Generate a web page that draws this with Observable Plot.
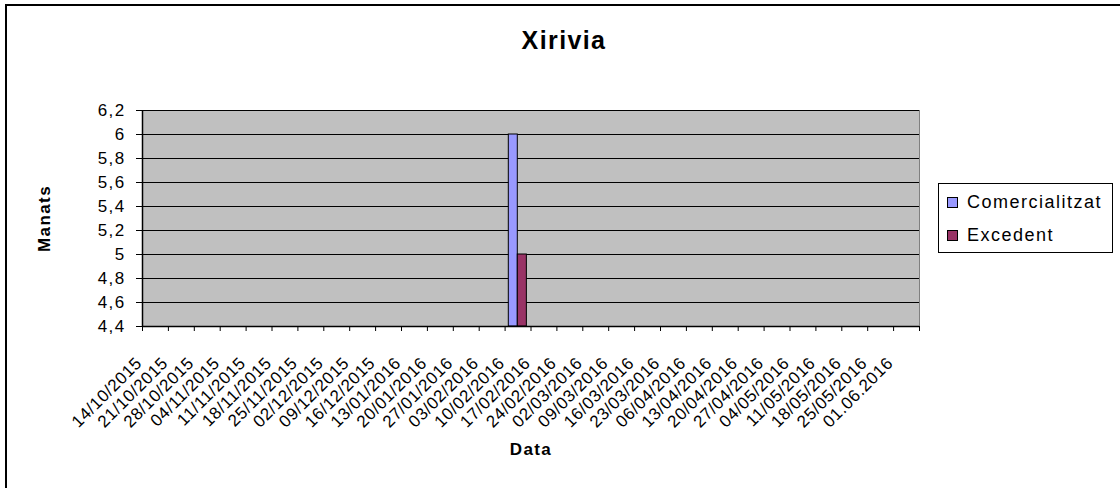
<!DOCTYPE html>
<html>
<head>
<meta charset="utf-8">
<script src="https://cdn.jsdelivr.net/npm/d3@7"></script>
<script src="https://cdn.jsdelivr.net/npm/@observablehq/plot@0.6"></script>
<style>
  html, body { margin: 0; padding: 0; background: #fff; }
  #wrap { position: relative; width: 1120px; height: 488px; overflow: hidden; font-family: "Liberation Sans", Arial, sans-serif; }
  #border { position: absolute; left: 5px; top: 4px; width: 1300px; height: 700px; border: 2px solid #000; box-sizing: border-box; pointer-events: none; }
  #chart { position: absolute; left: 0; top: 0; }
  #chart svg text { letter-spacing: 1.4px; }
  #chart svg text.xlab { letter-spacing: 0.6px; }
  #legend { position: absolute; left: 938px; top: 183px; width: 175px; height: 70px; border: 1px solid #000; box-sizing: border-box; background: #fff; }
  .item { position: absolute; left: 8px; height: 20px; display: flex; align-items: center; font-size: 18px; letter-spacing: 1.5px; color: #000; }
  .sw { width: 9px; height: 9px; border: 1px solid #000; margin-right: 9px; }
</style>
</head>
<body>
<div id="wrap">
  <div id="chart"></div>
  <div id="legend"></div>
  <div id="border"></div>
</div>
<script>
// ---- data ----
const dates = [
  "14/10/2015","21/10/2015","28/10/2015","04/11/2015","11/11/2015","18/11/2015","25/11/2015",
  "02/12/2015","09/12/2015","16/12/2015","13/01/2016","20/01/2016","27/01/2016","03/02/2016",
  "10/02/2016","17/02/2016","24/02/2016","02/03/2016","09/03/2016","16/03/2016","23/03/2016",
  "06/04/2016","13/04/2016","20/04/2016","27/04/2016","04/05/2016","11/05/2016","18/05/2016",
  "25/05/2016","01.06.2016"
];
const comercialitzat = [null,null,null,null,null,null,null,null,null,null,null,null,null,null,
  6,null,null,null,null,null,null,null,null,null,null,null,null,null,null,null];
const excedent = [null,null,null,null,null,null,null,null,null,null,null,null,null,null,
  5,null,null,null,null,null,null,null,null,null,null,null,null,null,null,null];
const yTicks = [4.4, 4.6, 4.8, 5, 5.2, 5.4, 5.6, 5.8, 6, 6.2];
const seriesNames = ["Comercialitzat", "Excedent"];
const seriesColors = ["#9999ff", "#993366"];

// ---- layout ----
const W = 1120, H = 488, mL = 142, mR = 201, mT = 110, mB = 162;
const n = dates.length;

const rows = dates.map((d, i) => ({i, date: d, com: comercialitzat[i], exc: excedent[i]}));
const fmt = v => String(+(+v).toFixed(1)).replace(".", ",");
const yMin = yTicks[0];

const chart = Plot.plot({
  width: W, height: H,
  marginLeft: mL, marginRight: mR, marginTop: mT, marginBottom: mB,
  style: {fontFamily: "'Liberation Sans', Arial, sans-serif", fontSize: "17px", color: "#000", background: "transparent", overflow: "visible"},
  x: {type: "linear", domain: [0, n], label: null},
  y: {domain: [yTicks[0], yTicks[yTicks.length - 1]], label: null},
  marks: [
    Plot.frame({fill: "#c0c0c0", stroke: "#808080"}),
    Plot.ruleY(yTicks, {stroke: "#000", strokeWidth: 1}),
    Plot.rectY(rows.filter(r => r.com != null), {x1: r => r.i + 0.143, x2: r => r.i + 0.49, y1: yMin, y2: "com", fill: seriesColors[0], stroke: "#000", strokeWidth: 1}),
    Plot.rectY(rows.filter(r => r.exc != null), {x1: r => r.i + 0.49, x2: r => r.i + 0.84, y1: yMin, y2: "exc", fill: seriesColors[1], stroke: "#000", strokeWidth: 1}),
    Plot.ruleX([0], {stroke: "#000", strokeWidth: 1.5}),
    Plot.ruleY([yMin], {stroke: "#000", strokeWidth: 1.5}),
    Plot.axisY({ticks: yTicks, tickSize: 6, tickPadding: 11, tickFormat: fmt, fontSize: 17, label: null}),
    Plot.axisX({ticks: d3.range(n + 1), tickSize: 5, tickFormat: () => "", label: null}),
    Plot.text(rows, {x: r => r.i + 0.5, text: "date", frameAnchor: "bottom", textAnchor: "end", lineAnchor: "top", rotate: -45, dx: -21, dy: 29, fontSize: 17, className: "xlab"}),
    Plot.text(["Xirivia"], {text: d => d, frameAnchor: "top", textAnchor: "middle", lineAnchor: "middle", dx: 33, dy: -70, fontSize: 25, fontWeight: "bold"}),
    Plot.text(["Manats"], {text: d => d, frameAnchor: "left", textAnchor: "middle", lineAnchor: "middle", dx: -98, rotate: -90, fontSize: 17, fontWeight: "bold"}),
    Plot.text(["Data"], {text: d => d, frameAnchor: "bottom", textAnchor: "middle", lineAnchor: "middle", dy: 123, fontSize: 17, fontWeight: "bold"})
  ]
});
document.getElementById("chart").appendChild(chart);
// tag x labels for letter-spacing (className on the mark's group)
chart.querySelectorAll("g.xlab text").forEach(t => t.classList.add("xlab"));

// legend
const legend = document.getElementById("legend");
seriesNames.forEach((name, i) => {
  const it = document.createElement("div");
  it.className = "item";
  it.style.top = (i === 0 ? 8 : 41) + "px";
  const sw = document.createElement("div");
  sw.className = "sw";
  sw.style.background = seriesColors[i];
  const tx = document.createElement("span");
  tx.textContent = name;
  it.appendChild(sw); it.appendChild(tx);
  legend.appendChild(it);
});
</script>
</body>
</html>
